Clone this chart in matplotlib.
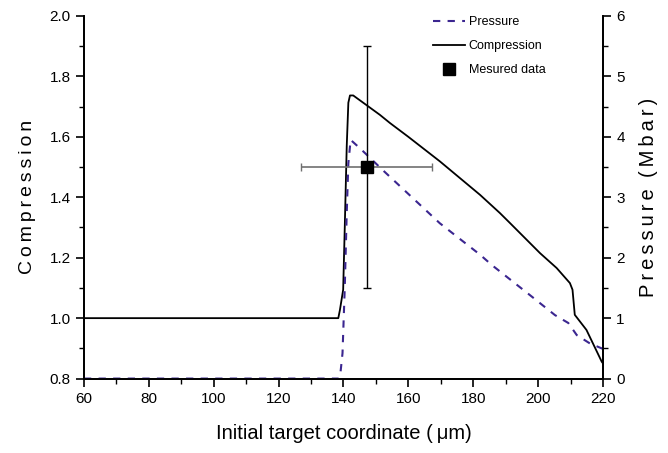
import numpy as np
import matplotlib.pyplot as plt
from matplotlib.ticker import MultipleLocator
from matplotlib.lines import Line2D

plt.rcParams['font.family'] = ['Liberation Sans', 'DejaVu Sans']

# compression profile vs initial target coordinate (um)
comp_x = [60, 138.4, 138.9, 139.9, 140.4, 141.0, 141.5, 142.0, 143.0, 151.2, 154.3,
          160.0, 169.7, 182.1, 188.2, 191.3, 200.6, 205.7, 209.8, 210.6, 211.3, 214.9, 219.6, 220]
comp_y = [1.0, 1.0, 1.027, 1.094, 1.303, 1.569, 1.713, 1.737, 1.737, 1.673, 1.646,
          1.60, 1.519, 1.408, 1.348, 1.315, 1.215, 1.166, 1.116, 1.094, 1.011, 0.961, 0.856, 0.85]

# pressure profile (Mbar)
pres_x = [60, 138.6, 139.0, 139.7, 140.4, 141.0, 141.5, 142.2, 145.1, 152.5, 169.7, 182.1,
          185.7, 197.5, 205.2, 209.3, 211.9, 216.0, 219.6, 220]
pres_y = [0.0, 0.0, 0.06, 0.42, 1.52, 2.74, 3.56, 3.95, 3.81, 3.43, 2.57, 2.05,
          1.88, 1.38, 1.05, 0.92, 0.72, 0.58, 0.50, 0.49]

# measured point
meas_x, meas_xerr = 147.2, 20.2
meas_y, meas_yerr = 3.5, 2.0

def spaced(s):
    # wide letter spacing like the original labels
    return '\u2009'.join(s)

fig = plt.figure(figsize=(6.68, 4.53), dpi=100)
ax = fig.add_axes([0.1257, 0.1643, 0.777, 0.8004])
ax2 = ax.twinx()

ax.plot(comp_x, comp_y, color='black', lw=1.3)
ax2.plot(pres_x, pres_y, color='#3b2690', lw=1.5, ls=(0, (3.5, 3.5)))

# error bars: horizontal grey, vertical black
ax2.errorbar(meas_x, meas_y, xerr=meas_xerr, fmt='none', ecolor='#707070', elinewidth=1.2, capsize=3)
ax2.errorbar(meas_x, meas_y, yerr=meas_yerr, fmt='none', ecolor='black', elinewidth=1.0, capsize=3)
ax2.plot(meas_x, meas_y, 's', color='black', ms=9)

ax.set_xlim(60, 220)
ax.set_ylim(0.8, 2.0)
ax2.set_ylim(0, 6)

ax.xaxis.set_major_locator(MultipleLocator(20))
ax.xaxis.set_minor_locator(MultipleLocator(10))
ax.yaxis.set_major_locator(MultipleLocator(0.2))
ax.yaxis.set_minor_locator(MultipleLocator(0.1))
ax2.yaxis.set_major_locator(MultipleLocator(1))
ax2.yaxis.set_minor_locator(MultipleLocator(0.5))
ax.yaxis.set_major_formatter(plt.FormatStrFormatter('%.1f'))

for a in (ax, ax2):
    a.spines['top'].set_visible(False)
    for s in a.spines.values():
        s.set_linewidth(1.3)
    a.tick_params(which='major', direction='out', length=6, width=1.2, labelsize=11)
    a.tick_params(which='minor', direction='out', length=3.5, width=1.0)

ax.set_xlabel('Initial target coordinate (\u2009μm)', fontsize=14.5, labelpad=13)
ax.set_ylabel(spaced('Compression'), fontsize=14, labelpad=10)
ax2.set_ylabel(spaced('Pressure') + '  ' + spaced('(Mbar)'), fontsize=14.5, labelpad=10)

handles = [Line2D([], [], color='#3b2690', lw=1.5, ls=(0, (3.5, 3.5))),
           Line2D([], [], color='black', lw=1.3),
           Line2D([], [], color='black', marker='s', ls='none', ms=9)]
labels = ['Pressure', 'Compression', 'Mesured data']
ax.legend(handles, labels, loc='upper left', bbox_to_anchor=(0.65, 1.03),
          frameon=False, fontsize=9, handlelength=2.6, handletextpad=0.3,
          labelspacing=0.95)

fig.savefig('out.png', dpi=100)
